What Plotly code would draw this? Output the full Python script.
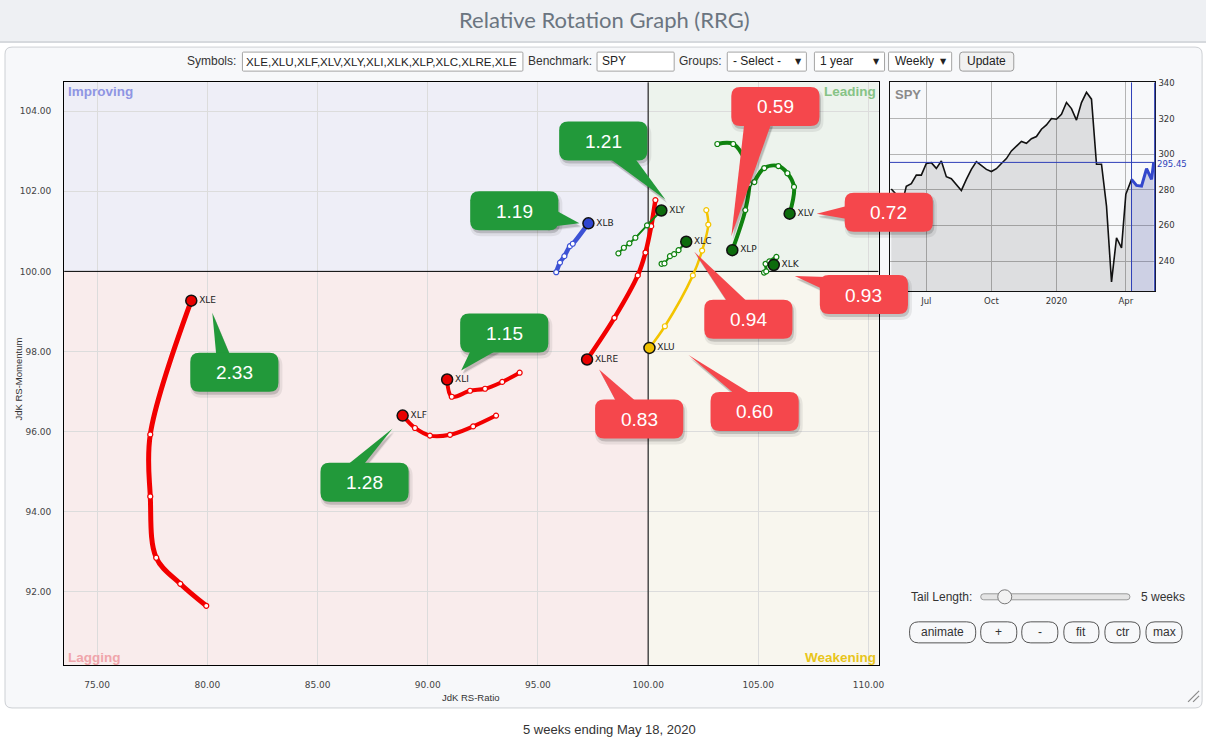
import plotly.graph_objects as go

# ---------------- data ----------------
SYMBOLS = ["XLE", "XLF", "XLI", "XLRE", "XLB", "XLY", "XLC", "XLU", "XLP", "XLV", "XLK"]

XLE_RATIO = [79.95, 78.77, 77.68, 77.41, 77.41, 79.27]
XLE_MOM = [91.65, 92.20, 92.85, 94.38, 95.93, 99.27]
XLF_RATIO = [93.10, 92.06, 91.01, 90.10, 89.42, 88.86]
XLF_MOM = [96.40, 96.13, 95.92, 95.90, 96.09, 96.40]
XLI_RATIO = [94.17, 93.38, 92.60, 91.92, 91.09, 90.88]
XLI_MOM = [97.47, 97.24, 97.07, 97.02, 96.87, 97.30]
XLRE_RATIO = [100.33, 100.14, 99.88, 99.53, 98.47, 97.23]
XLRE_MOM = [101.78, 101.13, 100.47, 99.90, 98.84, 97.80]
XLB_RATIO = [95.83, 96.00, 96.20, 96.45, 96.58, 97.29]
XLB_MOM = [99.98, 100.22, 100.38, 100.63, 100.69, 101.20]
XLY_RATIO = [98.65, 98.90, 99.15, 99.42, 99.95, 100.60]
XLY_MOM = [100.45, 100.59, 100.70, 100.84, 101.15, 101.52]
XLC_RATIO = [100.61, 100.74, 100.99, 101.18, 101.38, 101.73]
XLC_MOM = [100.19, 100.20, 100.38, 100.43, 100.53, 100.74]
XLU_RATIO = [102.64, 102.73, 102.45, 102.03, 100.76, 100.06]
XLU_MOM = [101.53, 101.17, 100.52, 99.90, 98.63, 98.09]
XLP_RATIO = [103.14, 103.86, 104.41, 104.59, 104.41, 103.82]
XLP_MOM = [103.18, 103.18, 102.75, 102.18, 101.53, 100.53]
XLV_RATIO = [104.82, 105.27, 105.91, 106.32, 106.62, 106.42]
XLV_MOM = [102.23, 102.58, 102.63, 102.45, 102.11, 101.44]
XLK_RATIO = [105.26, 105.36, 105.33, 105.50, 105.82, 105.70]
XLK_MOM = [99.97, 100.00, 100.19, 100.25, 100.36, 100.16]

CALLOUT_SYMBOLS = ["XLP", "XLY", "XLB", "XLV", "XLK", "XLC", "XLI", "XLE", "XLRE", "XLU", "XLF"]
CALLOUT_VALUES = [0.59, 1.21, 1.19, 0.72, 0.93, 0.94, 1.15, 2.33, 0.83, 0.60, 1.28]

SPY_DATES = [
    "2019-05-17", "2019-05-24", "2019-05-31", "2019-06-07", "2019-06-14", "2019-06-21",
    "2019-06-28", "2019-07-05", "2019-07-12", "2019-07-19", "2019-07-26", "2019-08-02",
    "2019-08-09", "2019-08-16", "2019-08-23", "2019-08-30", "2019-09-06", "2019-09-13",
    "2019-09-20", "2019-09-27", "2019-10-04", "2019-10-11", "2019-10-18", "2019-10-25",
    "2019-11-01", "2019-11-08", "2019-11-15", "2019-11-22", "2019-11-29", "2019-12-06",
    "2019-12-13", "2019-12-20", "2019-12-27", "2020-01-03", "2020-01-10", "2020-01-17",
    "2020-01-24", "2020-01-31", "2020-02-07", "2020-02-14", "2020-02-21", "2020-02-28",
    "2020-03-06", "2020-03-13", "2020-03-20", "2020-03-27", "2020-04-03", "2020-04-09",
    "2020-04-17", "2020-04-24", "2020-05-01", "2020-05-08", "2020-05-15", "2020-05-18",
]
SPY_CLOSE = [
    280.5, 277.5, 270.5, 282.0, 283.5, 288.3,
    288.3, 294.8, 295.3, 292.1, 296.2, 287.4,
    286.3, 283.1, 279.7, 285.9, 291.5, 295.9,
    293.8, 291.5, 290.3, 291.9, 294.8, 297.6,
    301.9, 304.7, 307.2, 306.2, 308.8, 310.0,
    314.1, 316.5, 320.1, 319.7, 322.5, 329.1,
    325.7, 319.2, 329.1, 334.8, 331.0, 294.4,
    294.4, 270.9, 228.3, 253.1, 247.4, 277.5,
    285.9, 282.5, 282.1, 291.9, 285.9, 295.45,
]
TAIL_WEEKS = 5
INSET_TICK_DATES = ["2019-07-05", "2019-10-04", "2020-01-03", "2020-04-09"]
INSET_TICK_TEXT = ["Jul", "Oct", "2020", "Apr"]

RATIOS = {"XLE": XLE_RATIO, "XLF": XLF_RATIO, "XLI": XLI_RATIO, "XLRE": XLRE_RATIO,
          "XLB": XLB_RATIO, "XLY": XLY_RATIO, "XLC": XLC_RATIO, "XLU": XLU_RATIO,
          "XLP": XLP_RATIO, "XLV": XLV_RATIO, "XLK": XLK_RATIO}
MOMS = {"XLE": XLE_MOM, "XLF": XLF_MOM, "XLI": XLI_MOM, "XLRE": XLRE_MOM,
        "XLB": XLB_MOM, "XLY": XLY_MOM, "XLC": XLC_MOM, "XLU": XLU_MOM,
        "XLP": XLP_MOM, "XLV": XLV_MOM, "XLK": XLK_MOM}

# ---------------- styles / layout geometry ----------------
# Layout positions below are expressed in target-screen pixels and mapped into the figure
# with a small correction for the viewer's page fit.
S = 744 / 749
OFFY = 5
FW, FH = 1214, 744


def X(px):
    return px / S


def Y(py):
    return py / S - OFFY


LINE_W = {"XLE": 5, "XLF": 4, "XLI": 4, "XLRE": 4.5, "XLB": 4.5, "XLY": 2,
          "XLC": 2, "XLU": 2.5, "XLP": 4, "XLV": 4, "XLK": 3}
QUAD_LINE = {"leading": "#0f820f", "improving": "#3d52d5", "lagging": "#f20000", "weakening": "#f3c400"}
QUAD_HEAD = {"leading": "#0c6b0c", "improving": "#2f45d0", "lagging": "#e80000", "weakening": "#f0c000"}
GREEN_BOX, RED_BOX = "#22993a", "#f5474c"

# pixel frame of the main plot (screen px)
PL, PR, PT, PB = 64, 877, 83, 665
XR = [73.5, 110.4545]
YR = [90.175, 104.725]
# inset frame
IL, IR, IT, IB = 888.3, 1152.7, 83.3, 291.7

# callout geometry relative to the head point (pixels): box top-left, tip, base1, base2
CALLOUT_GEOM = {
    "XLP": ((-1, -163), (-1, -14), (12, -127), (39, -127)),
    "XLY": ((-102, -89), (4, -11), (-53, -53), (-27, -53)),
    "XLB": ((-118, -32), (-9, 0), (-42, -18), (-42, 4)),
    "XLV": ((55, -21), (27, 0), (62, -9), (62, 6)),
    "XLK": ((46, 10), (21, 11), (53, 12), (53, 26)),
    "XLC": ((18, 58), (8, 10), (41, 60), (61, 60)),
    "XLI": ((13, -66), (14, -9), (24, -30), (51, -30)),
    "XLE": ((-1, 52), (21, 12), (25, 55), (39, 55)),
    "XLRE": ((8, 40), (12, 10), (29, 42), (49, 42)),
    "XLU": ((61, 44), (39, 7), (85, 46), (102, 46)),
    "XLF": ((-82, 47), (-10, 13), (-55, 49), (-39, 49)),
}
BOX_W, BOX_H, BOX_R = 88, 39, 9


def quadrant(x, y):
    if x >= 100 and y >= 100:
        return "leading"
    if x < 100 and y >= 100:
        return "improving"
    if x < 100 and y < 100:
        return "lagging"
    return "weakening"


def to_px(x, y):
    px = PL + (x - XR[0]) / (XR[1] - XR[0]) * (PR - PL)
    py = PT + (YR[1] - y) / (YR[1] - YR[0]) * (PB - PT)
    return px, py


def paper_x(px):
    return X(px) / FW


def paper_y(py):
    return 1 - Y(py) / FH


def f(px, py):
    return f"{paper_x(px):.6f},{paper_y(py):.6f}"


def rr_path(x0, y0, x1, y1, r):
    return (f"M {f(x0 + r, y0)} L {f(x1 - r, y0)} Q {f(x1, y0)} {f(x1, y0 + r)} "
            f"L {f(x1, y1 - r)} Q {f(x1, y1)} {f(x1 - r, y1)} L {f(x0 + r, y1)} "
            f"Q {f(x0, y1)} {f(x0, y1 - r)} L {f(x0, y0 + r)} Q {f(x0, y0)} {f(x0 + r, y0)} Z")


def tri_path(a, b, c):
    return f"M {f(*a)} L {f(*b)} L {f(*c)} Z"


shapes = []
annotations = []


def pshape(path, fill, line_color=None, lw=0, layer="above"):
    shapes.append(dict(type="path", xref="paper", yref="paper", path=path,
                       fillcolor=fill, layer=layer,
                       line=dict(color=line_color or "rgba(0,0,0,0)", width=lw)))


def txt(px, py, text, size=12, color="#333", xanchor="left", family="Liberation Sans, Arial",
        angle=0):
    annotations.append(dict(xref="paper", yref="paper", x=paper_x(px), y=paper_y(py), text=text,
                            showarrow=False, xanchor=xanchor, yanchor="middle",
                            font=dict(size=size, color=color, family=family),
                            textangle=angle))


# ---------------- page chrome ----------------
pshape(f"M {f(-10,-10)} L {f(1220,-10)} L {f(1220,42)} L {f(-10,42)} Z", "#eef0f3", layer="below")
pshape(f"M {f(-10,42)} L {f(1220,42)} L {f(1220,44)} L {f(-10,44)} Z", "#d6d9dd", layer="below")
pshape(rr_path(5, 48, 1200, 708, 7), "#f7f8fa", "#cdd0d4", 1, layer="below")
txt(603, 20, "Relative Rotation Graph (RRG)", 22, "#6b7580", "center", "Lato, Open Sans")
txt(608, 730, "5 weeks ending May 18, 2020", 13, "#333", "center")

# toolbar
TY = 62
txt(238, TY, "Symbols:", 12, "#333", "right")
pshape(rr_path(242, 53, 522, 72, 1), "#ffffff", "#a4a4a4", 1)
txt(244, TY, "XLE,XLU,XLF,XLV,XLY,XLI,XLK,XLP,XLC,XLRE,XLE", 11.6, "#222", "left")
txt(593, TY, "Benchmark:", 12, "#333", "right")
pshape(rr_path(596, 53, 673, 72, 1), "#ffffff", "#a4a4a4", 1)
txt(599, TY, "SPY", 12, "#222", "left")
txt(723, TY, "Groups:", 12, "#333", "right")
for (x0, x1, label) in [(726, 805, "- Select -"), (813, 883, "1 year"), (887, 950, "Weekly")]:
    pshape(rr_path(x0, 53, x1, 72, 1), "#ffffff", "#a4a4a4", 1)
    txt(x0 + 4, TY, label, 12, "#222", "left")
    txt(x1 - 8, TY, "▼", 8, "#222", "center", "DejaVu Sans")
pshape(rr_path(958, 53, 1012, 72, 3), "#f1f1f1", "#9c9c9c", 1)
txt(985, TY, "Update", 12, "#222", "center")

# bottom-right controls
txt(907, 597, "Tail Length:", 12, "#333", "left")
pshape(rr_path(979, 594, 1128, 600, 3), "#e4e4e4", "#9a9a9a", 1)
shapes.append(dict(type="circle", xref="paper", yref="paper",
                   x0=paper_x(1003 - 7), x1=paper_x(1003 + 7), y0=paper_y(597 + 7),
                   y1=paper_y(597 - 7),
                   fillcolor="#f2f2f2", line=dict(color="#7a7a7a", width=1), layer="above"))
txt(1137, 597, "5 weeks", 12, "#333", "left")
for (x0, x1, label) in [(908, 974, "animate"), (979, 1015, "+"), (1020, 1056, "-"),
                        (1062, 1097, "fit"), (1103, 1138, "ctr"), (1144, 1180, "max")]:
    pshape(rr_path(x0, 622, x1, 643, 9), "rgba(0,0,0,0)", "#555555", 1)
    txt((x0 + x1) / 2, 632.5, label, 12, "#333", "center")
# resize grip
for (a, b) in [((1186, 702), (1197, 691)), ((1191, 702), (1197, 696))]:
    shapes.append(dict(type="line", xref="paper", yref="paper", x0=paper_x(a[0]),
                       y0=paper_y(a[1]), x1=paper_x(b[0]), y1=paper_y(b[1]),
                       line=dict(color="#8a8a8a", width=1.2), layer="above"))

# ---------------- main RRG ----------------
QUAD_FILL = [("improving", XR[0], 100, 100, YR[1], "#eeeef7"),
             ("leading", 100, XR[1], 100, YR[1], "#edf3ed"),
             ("lagging", XR[0], 100, YR[0], 100, "#f9ecec"),
             ("weakening", 100, XR[1], YR[0], 100, "#f8f6ee")]
for (_, x0, x1, y0, y1, col) in QUAD_FILL:
    shapes.append(dict(type="rect", xref="x", yref="y", x0=x0, x1=x1, y0=y0, y1=y1,
                       fillcolor=col, line=dict(width=0), layer="below"))
shapes.append(dict(type="line", xref="x", yref="y", x0=100, x1=100, y0=YR[0], y1=YR[1],
                   line=dict(color="black", width=1), layer="between"))
shapes.append(dict(type="line", xref="x", yref="y", x0=XR[0], x1=XR[1], y0=100, y1=100,
                   line=dict(color="black", width=1), layer="between"))

txt(66, 92, "<b>Improving</b>", 13.5, "#8f95e3", "left")
txt(876, 92, "<b>Leading</b>", 13.5, "#86c386", "right")
txt(66, 658, "<b>Lagging</b>", 13.5, "#f0a5ab", "left")
txt(876, 658, "<b>Weakening</b>", 13.5, "#e8c51a", "right")
txt(470, 698, "JdK RS-Ratio", 9.5, "#333", "center")
txt(18, 380, "JdK RS-Momentum", 9.5, "#333", "center", angle=-90)

fig = go.Figure()

for s in SYMBOLS:
    xs, ys = RATIOS[s], MOMS[s]
    q = quadrant(xs[-1], ys[-1])
    fig.add_trace(go.Scatter(x=xs, y=ys, mode="lines", xaxis="x", yaxis="y",
                             line=dict(color=QUAD_LINE[q], width=LINE_W[s], shape="spline",
                                       smoothing=1.0),
                             hoverinfo="skip", showlegend=False))
for s in SYMBOLS:
    xs, ys = RATIOS[s], MOMS[s]
    q = quadrant(xs[-1], ys[-1])
    fig.add_trace(go.Scatter(x=xs[:-1], y=ys[:-1], mode="markers", xaxis="x", yaxis="y",
                             marker=dict(size=5, color="white",
                                         line=dict(color=QUAD_LINE[q], width=1.2)),
                             hoverinfo="skip", showlegend=False))
for s in SYMBOLS:
    xs, ys = RATIOS[s], MOMS[s]
    q = quadrant(xs[-1], ys[-1])
    fig.add_trace(go.Scatter(x=[xs[-1]], y=[ys[-1]], mode="markers+text", xaxis="x", yaxis="y",
                             text=[s], textposition="middle right",
                             textfont=dict(family="DejaVu Sans", size=9, color="#222"),
                             marker=dict(size=11, color=QUAD_HEAD[q],
                                         line=dict(color="#111", width=1.5)),
                             hoverinfo="skip", showlegend=False))

# ---------------- callouts ----------------
for s, v in zip(CALLOUT_SYMBOLS, CALLOUT_VALUES):
    hx, hy = to_px(RATIOS[s][-1], MOMS[s][-1])
    (bdx, bdy), tip, b1, b2 = CALLOUT_GEOM[s]
    bx, by = hx + bdx, hy + bdy
    tp = (hx + tip[0], hy + tip[1])
    p1 = (hx + b1[0], hy + b1[1])
    p2 = (hx + b2[0], hy + b2[1])
    col = GREEN_BOX if v >= 1 else RED_BOX
    for (ox, oy, grow, alpha) in [(2, 4, 2, 0.07), (1.5, 3, 0, 0.16)]:
        pshape(rr_path(bx + ox - grow, by + oy - grow, bx + BOX_W + ox + grow,
                       by + BOX_H + oy + grow, BOX_R + grow), f"rgba(0,0,0,{alpha})")
        pshape(tri_path((tp[0] + ox, tp[1] + oy), (p1[0] + ox, p1[1] + oy),
                        (p2[0] + ox, p2[1] + oy)), f"rgba(0,0,0,{alpha})")
    pshape(tri_path(tp, p1, p2), col)
    pshape(rr_path(bx, by, bx + BOX_W, by + BOX_H, BOX_R), col)
    txt(bx + BOX_W / 2, by + BOX_H / 2 + 0.5, f"{v:.2f}", 19, "#ffffff", "center",
        "Liberation Sans, Arial")

# ---------------- SPY inset ----------------
k = len(SPY_DATES) - 1 - TAIL_WEEKS
fig.add_trace(go.Scatter(x=SPY_DATES[:k + 1], y=SPY_CLOSE[:k + 1], xaxis="x2", yaxis="y2",
                         mode="lines", fill="tozeroy", fillcolor="rgba(0,0,0,0.10)",
                         line=dict(color="#111111", width=1.6), hoverinfo="skip",
                         showlegend=False))
fig.add_trace(go.Scatter(x=SPY_DATES[k:], y=SPY_CLOSE[k:], xaxis="x2", yaxis="y2",
                         mode="lines", fill="tozeroy", fillcolor="rgba(40,50,140,0.20)",
                         line=dict(color="#3347cc", width=3), hoverinfo="skip",
                         showlegend=False))
shapes.append(dict(type="line", xref="x2 domain", yref="y2", x0=0, x1=1,
                   y0=SPY_CLOSE[-1], y1=SPY_CLOSE[-1], line=dict(color="#2e3fb8", width=1),
                   layer="above"))
shapes.append(dict(type="line", xref="x2", yref="y2 domain", x0=SPY_DATES[k], x1=SPY_DATES[k],
                   y0=0, y1=1, line=dict(color="#2e3fb8", width=1), layer="above"))
shapes.append(dict(type="line", xref="paper", yref="paper", x0=paper_x(IR), x1=paper_x(IR),
                   y0=paper_y(IB), y1=paper_y(IT), line=dict(color="#2e3fb8", width=1.2),
                   layer="above"))
annotations.append(dict(xref="x2 domain", yref="y2", x=1, y=SPY_CLOSE[-1],
                        text=f"{SPY_CLOSE[-1]:.2f}", showarrow=False, xanchor="left",
                        yanchor="top", xshift=1, yshift=4, borderpad=0,
                        font=dict(size=8.5, color="#2e3fb8", family="DejaVu Sans")))
txt(891, 95, "<b>SPY</b>", 13, "#8a8a8a", "left", "Liberation Sans, Arial")

fig.update_layout(
    width=FW, height=FH, margin=dict(l=0, r=0, t=0, b=0),
    paper_bgcolor="#ffffff", plot_bgcolor="#f4f4f4",
    shapes=shapes, annotations=annotations, showlegend=False,
    xaxis=dict(domain=[paper_x(PL), paper_x(PR)], range=XR, tick0=75, dtick=5, tickformat=".2f",
               showgrid=True, gridcolor="#dcdcdc", gridwidth=1, zeroline=False,
               showline=True, linecolor="black", linewidth=1, mirror=True, ticks="",
               ticklabelstandoff=11, anchor="y",
               tickfont=dict(family="DejaVu Sans", size=9, color="#444")),
    yaxis=dict(domain=[paper_y(PB), paper_y(PT)], range=YR, tick0=92, dtick=2, tickformat=".2f",
               showgrid=True, gridcolor="#dcdcdc", gridwidth=1, zeroline=False,
               showline=True, linecolor="black", linewidth=1, mirror=True, ticks="",
               ticklabelstandoff=10, anchor="x",
               tickfont=dict(family="DejaVu Sans", size=9, color="#444")),
    xaxis2=dict(domain=[paper_x(IL), paper_x(IR)], type="date", anchor="y2",
                range=["2019-05-15", "2020-05-19 10:00"],
                tickvals=INSET_TICK_DATES, ticktext=INSET_TICK_TEXT,
                showgrid=True, gridcolor="#b4b4b4", zeroline=False, showline=True,
                linecolor="#111", linewidth=1, mirror=True, ticks="", ticklabelstandoff=2,
                tickfont=dict(family="DejaVu Sans", size=8.5, color="#333")),
    yaxis2=dict(domain=[paper_y(IB), paper_y(IT)], range=[223.1, 340.4], anchor="x2",
                side="right", tick0=240, dtick=20, showgrid=True, gridcolor="#b4b4b4",
                zeroline=False, showline=True, linecolor="#111", linewidth=1, mirror=True,
                ticks="", ticklabelstandoff=1,
                tickfont=dict(family="DejaVu Sans", size=8.5, color="#333")),
)

POST = ("document.documentElement.style.margin='0';document.documentElement.style.padding='0';"
        "document.documentElement.style.overflow='hidden';"
        "document.body.style.margin='0';document.body.style.padding='0';"
        "document.body.style.overflow='hidden';"
        "var d=document.getElementById('{plot_id}');"
        "d.style.position='fixed';d.style.left='0px';d.style.top='0px';")
fig.write_html("out.html", config={"displayModeBar": False}, post_script=POST)
